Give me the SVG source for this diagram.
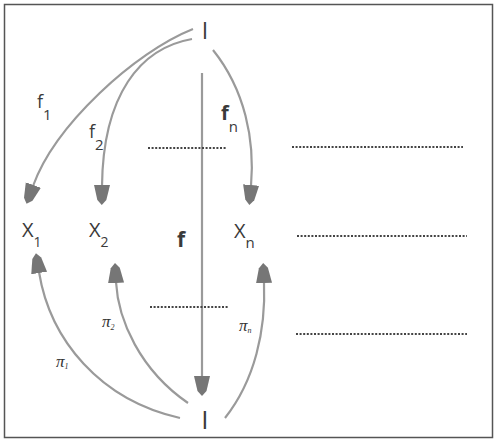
<svg xmlns="http://www.w3.org/2000/svg" width="497" height="442" viewBox="0 0 497 442">
<style>
.t{font-family:"Open Sans","DejaVu Sans",sans-serif;fill:#3a3a3a}
.c{fill:none;stroke:#9a9a9a;stroke-width:2.2}
.d{fill:none;stroke:#444;stroke-width:2;stroke-dasharray:2 1.6}
.p{font-family:"Liberation Serif",serif;font-style:italic;fill:#333}
</style>
<defs>
<marker id="ah" markerUnits="userSpaceOnUse" markerWidth="22" markerHeight="18" refX="1" refY="8.5" orient="auto" viewBox="0 0 22 17">
<path d="M0,0.5 L15,4 L20,8.5 L15,13 L0,16.5 z" fill="#767676"/>
</marker>
</defs>
<rect x="4.5" y="4.5" width="488" height="433" fill="#fff" stroke="#555" stroke-width="1.5"/>
<g id="connectors">
<path class="c" d="M193,29 C135,52 55,125 33,186" marker-end="url(#ah)"/>
<path class="c" d="M192,39 C140,48 103,95 102,186" marker-end="url(#ah)"/>
<path class="c" d="M213,50 C245,90 255,140 251,186" marker-end="url(#ah)"/>
<path class="c" d="M202,73 L202,377" marker-end="url(#ah)"/>
<path class="c" d="M180,418 C100,400 50,340 39,272" marker-end="url(#ah)"/>
<path class="c" d="M188,403 C140,370 118,320 116,282" marker-end="url(#ah)"/>
<path class="c" d="M225,418 C255,380 266,330 264,282" marker-end="url(#ah)"/>
</g>
<g id="dots">
<path class="d" d="M148,148 H227"/>
<path class="d" d="M292,147 H463"/>
<path class="d" d="M297,236 H467"/>
<path class="d" d="M150,307 H228"/>
<path class="d" d="M296,334 H467"/>
</g>
<g id="topI"><text class="t" x="205" y="39" font-size="23" text-anchor="middle">I</text></g>
<g id="botI"><text class="t" x="205" y="429" font-size="26" text-anchor="middle">I</text></g>
<g id="X1"><text class="t" x="22" y="237" font-size="20">X<tspan font-size="14" dy="10">1</tspan></text></g>
<g id="X2"><text class="t" x="89" y="237" font-size="20">X<tspan font-size="14" dy="10">2</tspan></text></g>
<g id="Xn"><text class="t" x="234" y="238" font-size="20">X<tspan font-size="15" dy="10">n</tspan></text></g>
<g id="flabel"><text class="t" x="177" y="247" font-size="21" font-weight="bold">f</text></g>
<g id="f1"><text class="t" x="37" y="108" font-size="18">f<tspan font-size="15" dy="12">1</tspan></text></g>
<g id="f2"><text class="t" x="89" y="138" font-size="18">f<tspan font-size="15" dy="12">2</tspan></text></g>
<g id="fn"><text class="t" x="221" y="120" font-size="20" font-weight="bold">f<tspan font-size="15" font-weight="normal" dy="12">n</tspan></text></g>
<g id="pi1"><text class="p" x="56" y="367" font-size="17">π<tspan font-size="8" dy="2">1</tspan></text></g>
<g id="pi2"><text class="p" x="102" y="327" font-size="17">π<tspan font-size="8" dy="3">2</tspan></text></g>
<g id="pin"><text class="p" x="239" y="331" font-size="17">π<tspan font-size="8" dy="2">n</tspan></text></g>
</svg>
